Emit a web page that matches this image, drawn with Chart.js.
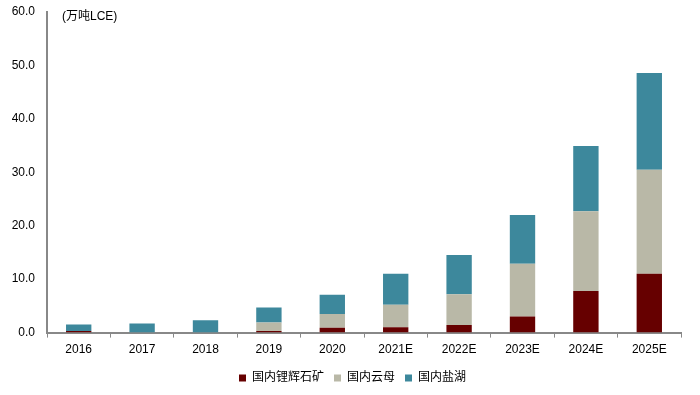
<!DOCTYPE html>
<html>
<head>
<meta charset="utf-8">
<script src="https://cdn.jsdelivr.net/npm/chart.js@4/dist/chart.umd.min.js"></script>
<style>
html,body{margin:0;padding:0;background:#fff;}
#wrap{width:700px;height:395px;position:relative;}
</style>
</head>
<body>
<div id="wrap"><canvas id="c" width="700" height="395"></canvas></div>
<script>
const categories = ['2016','2017','2018','2019','2020','2021E','2022E','2023E','2024E','2025E'];
const spodumene = [0.3, 0, 0, 0.3, 0.9, 1.0, 1.4, 3.0, 7.8, 11.0];
const lepidolite = [0, 0, 0, 1.6, 2.6, 4.2, 5.8, 9.9, 14.9, 19.5];
const brine = [1.2, 1.7, 2.3, 2.8, 3.6, 5.8, 7.3, 9.1, 12.2, 18.1];
const seriesNames = ['国内锂辉石矿', '国内云母', '国内盐湖'];
const unitLabel = '(万吨LCE)';

const FONT = "Arial, 'Liberation Sans', 'Noto Sans CJK SC', sans-serif";

const unitPlugin = {
  id: 'unit',
  afterLayout(chart) {
    if (chart.legend) { chart.legend.left += 12; chart.legend.right += 12; }
  },
  afterDraw(chart) {
    const ctx = chart.ctx;
    ctx.save();
    ctx.font = '12px ' + FONT;
    ctx.fillStyle = '#000';
    ctx.textBaseline = 'middle';
    ctx.textAlign = 'left';
    ctx.fillText(unitLabel, chart.chartArea.left + 15, chart.chartArea.top + 5);
    ctx.restore();
  }
};

new Chart(document.getElementById('c'), {
  type: 'bar',
  data: {
    labels: categories,
    datasets: [
      { label: seriesNames[0], data: spodumene, backgroundColor: '#660000' },
      { label: seriesNames[1], data: lepidolite, backgroundColor: '#B9B8A7' },
      { label: seriesNames[2], data: brine, backgroundColor: '#3D889C' }
    ]
  },
  options: {
    responsive: false,
    animation: false,
    devicePixelRatio: 1,
    layout: { padding: { left: 0, right: 19, top: 12, bottom: 1 } },
    datasets: { bar: { categoryPercentage: 1.0, barPercentage: 0.4, borderWidth: 0 } },
    plugins: {
      legend: {
        position: 'bottom',
        labels: {
          font: { size: 12, family: FONT },
          color: '#000',
          boxWidth: 7,
          boxHeight: 7,
          padding: 10
        }
      },
      tooltip: { enabled: false }
    },
    scales: {
      x: {
        stacked: true,
        grid: { display: true, drawOnChartArea: false, offset: true, color: '#888', tickLength: 5, tickColor: '#888' },
        border: { display: true, color: '#888', width: 2 },
        ticks: { font: { size: 12, family: FONT }, color: '#000', padding: 5, maxRotation: 0 }
      },
      y: {
        stacked: true,
        min: 0, max: 60,
        afterFit(scale) { scale.width = 47; scale.paddingTop = 0; },
        grid: { display: false, drawTicks: false },
        border: { display: true, color: '#888', width: 2 },
        ticks: { stepSize: 10, font: { size: 12, family: FONT }, color: '#000', padding: 12,
          callback: v => v.toFixed(1) }
      }
    }
  },
  plugins: [unitPlugin]
});
</script>
</body>
</html>
